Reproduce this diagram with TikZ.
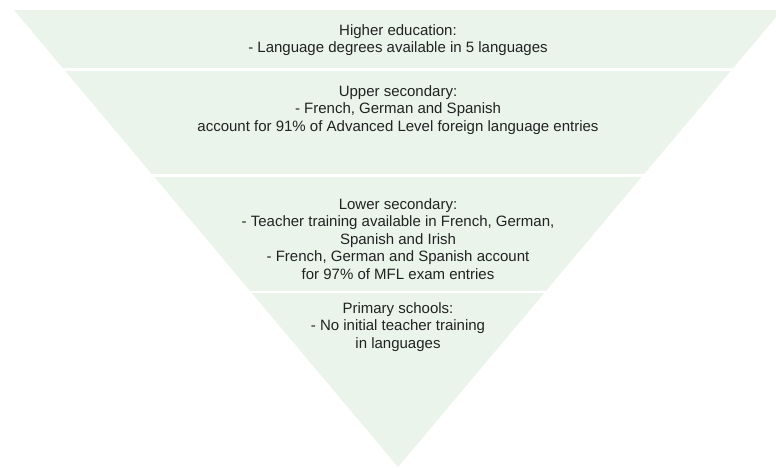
\documentclass[tikz,border=0pt]{standalone}
\usepackage{fontspec}
\setmainfont{Liberation Sans}
\usetikzlibrary{positioning}
\definecolor{BandGreen}{HTML}{EAF4EB}
\definecolor{TextGrey}{HTML}{222222}
\tikzset{
  bandtext/.style={font=\fontsize{15}{17.4}\selectfont, align=center, text=TextGrey, inner sep=0pt},
  gapline/.style={white, line width=2.4pt},
}
\begin{document}
\begin{tikzpicture}[x=1pt,y=-1pt]
  \useasboundingbox (0,0) rectangle (776,467);
  \clip (0,0) rectangle (776,467);
  % inverted triangle, cut into four bands
  \fill[BandGreen] (14,10) -- (782,10) -- (398,467) -- cycle;
  \draw[gapline] (0,69.5) -- (776,69.5);
  \draw[gapline] (0,175.3) -- (776,175.3);
  \draw[gapline] (0,292.2) -- (776,292.2);

  \node[bandtext] (higher) at (398,40) {Higher education:\\- Language degrees available in 5 languages};
  \node[bandtext] (upper) at (398,110) {Upper secondary:\\- French, German and Spanish\\account for 91\% of Advanced Level foreign language entries};
  \node[bandtext] (lower) at (398,239) {Lower secondary:\\- Teacher training available in French, German,\\Spanish and Irish\\- French, German and Spanish account\\for 97\% of MFL exam entries};
  \node[bandtext] (primary) at (398,327) {Primary schools:\\- No initial teacher training\\in languages};
\end{tikzpicture}
\end{document}
